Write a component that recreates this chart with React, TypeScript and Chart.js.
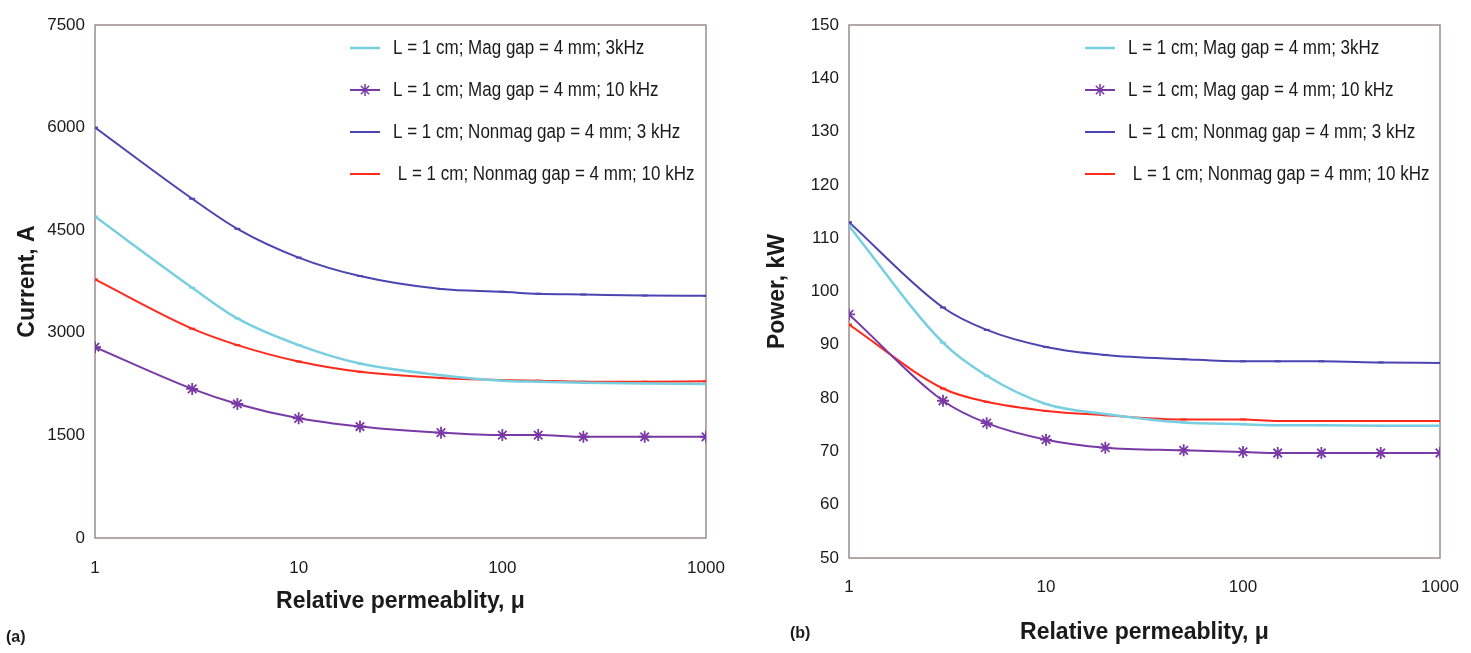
import React, { useEffect, useRef } from "react";
import { Chart, registerables } from "chart.js";

Chart.register(...registerables);

// ---- data ----
const mu = [1, 3, 5, 10, 20, 50, 100, 150, 250, 500, 1000];
const xTickValues = [1, 10, 100, 1000];

const seriesLabels = [
  "L = 1 cm; Mag gap = 4 mm; 3kHz",
  "L = 1 cm; Mag gap = 4 mm; 10 kHz",
  "L = 1 cm; Nonmag gap = 4 mm; 3 kHz",
  " L = 1 cm; Nonmag gap = 4 mm; 10 kHz",
];

// (a) Current, A
const currentMag3 = [4700, 3660, 3210, 2820, 2550, 2380, 2300, 2285, 2270, 2260, 2250];
const currentMag10 = [2790, 2180, 1960, 1750, 1630, 1540, 1505, 1505, 1480, 1480, 1480];
const currentNonmag3 = [6000, 4960, 4520, 4100, 3830, 3640, 3600, 3570, 3560, 3545, 3540];
const currentNonmag10 = [3780, 3060, 2820, 2580, 2430, 2340, 2310, 2300, 2285, 2285, 2290];

// (b) Power, kW
const powerMag3 = [112.3, 90.4, 84.2, 78.9, 77.0, 75.4, 75.1, 74.9, 74.9, 74.8, 74.8];
const powerMag10 = [95.7, 79.5, 75.3, 72.2, 70.7, 70.2, 69.9, 69.7, 69.7, 69.7, 69.7];
const powerNonmag3 = [113.0, 97.0, 92.8, 89.6, 88.1, 87.3, 86.9, 86.9, 86.9, 86.7, 86.6];
const powerNonmag10 = [93.8, 81.8, 79.3, 77.6, 76.8, 76.0, 76.0, 75.7, 75.7, 75.7, 75.7];

const colors = ["#78cfe2", "#7a3aa6", "#4b45b2", "#ff2a1c"];
const pointStyles = ["line", "star", "line", "line"];
const pointRadii = [3, 6, 3, 3];
const lineWidths = [2.5, 2, 2, 2];

const SANS = "'Liberation Sans', Arial, sans-serif";

const framePlugin = {
  id: "frame",
  beforeDatasetsDraw(chart: any) {
    const { ctx, chartArea } = chart;
    const { left, top, right, bottom } = chartArea;
    ctx.save();
    ctx.strokeStyle = "#9c8c8c";
    ctx.lineWidth = 1.5;
    ctx.strokeRect(left, top, right - left, bottom - top);
    ctx.restore();
  },
};

const legendPlugin = {
  id: "insideLegend",
  afterDraw(chart: any, _args: any, opts: any) {
    const { ctx } = chart;
    ctx.save();
    chart.data.datasets.forEach((ds: any, i: number) => {
      const y = opts.y0 + i * opts.dy;
      const x0 = opts.x0;
      ctx.strokeStyle = ds.borderColor;
      ctx.lineWidth = ds.borderWidth;
      ctx.beginPath();
      ctx.moveTo(x0, y);
      ctx.lineTo(x0 + 30, y);
      ctx.stroke();
      if (ds.pointStyle === "star") {
        const cx = x0 + 15;
        const r = 6;
        ctx.lineWidth = 1.5;
        ctx.beginPath();
        ctx.moveTo(cx - r * 0.7, y - r * 0.7);
        ctx.lineTo(cx + r * 0.7, y + r * 0.7);
        ctx.moveTo(cx + r * 0.7, y - r * 0.7);
        ctx.lineTo(cx - r * 0.7, y + r * 0.7);
        ctx.moveTo(cx, y - r);
        ctx.lineTo(cx, y + r);
        ctx.stroke();
      }
      ctx.save();
      ctx.translate(x0 + 43, y);
      ctx.scale(0.85, 1);
      ctx.fillStyle = "#1a1a1a";
      ctx.font = `20px ${SANS}`;
      ctx.textBaseline = "middle";
      ctx.textAlign = "left";
      ctx.fillText(ds.label, 0, 0);
      ctx.restore();
    });
    ctx.restore();
  },
};

const panelLabelPlugin = {
  id: "panelLabel",
  afterDraw(chart: any, _args: any, opts: any) {
    const { ctx } = chart;
    ctx.save();
    ctx.fillStyle = "#1a1a1a";
    ctx.font = `bold 16px ${SANS}`;
    ctx.textBaseline = "middle";
    ctx.textAlign = "left";
    ctx.fillText(opts.text, opts.x, opts.y);
    ctx.restore();
  },
};

function buildDatasets(values: number[][]) {
  return values.map((vals, i) => ({
    label: seriesLabels[i],
    data: mu.map((m, j) => ({ x: m, y: vals[j] })),
    borderColor: colors[i],
    backgroundColor: colors[i],
    borderWidth: lineWidths[i],
    pointStyle: pointStyles[i],
    pointRadius: pointRadii[i],
    pointBorderWidth: i === 1 ? 1.8 : 2,
    pointBorderColor: colors[i],
    cubicInterpolationMode: "monotone",
    fill: false,
  }));
}

function makeOptions(p: any) {
  return {
    responsive: false,
    animation: false,
    layout: { padding: { left: 0, top: p.top, right: p.right, bottom: 0 } },
    plugins: {
      legend: { display: false },
      tooltip: { enabled: false },
      insideLegend: { x0: p.legendX, y0: 48, dy: 42 },
      panelLabel: { text: p.panel, x: p.panelX, y: p.panelY },
    },
    scales: {
      x: {
        type: "logarithmic",
        min: 1,
        max: 1000,
        grid: {
          display: true,
          drawOnChartArea: false,
          drawTicks: true,
          tickLength: p.xTickLen,
          color: "rgba(0,0,0,0)",
        },
        border: { display: false },
        afterBuildTicks: (scale: any) => {
          scale.ticks = xTickValues.map((v) => ({ value: v }));
        },
        afterFit: (scale: any) => {
          scale.height = p.xAxisHeight;
        },
        ticks: {
          autoSkip: false,
          maxRotation: 0,
          padding: 2,
          color: "#1a1a1a",
          font: { family: SANS, size: 17 },
          callback: (v: any) => String(v),
        },
        title: {
          display: true,
          text: "Relative permeablity, μ",
          color: "#1a1a1a",
          font: { family: SANS, size: 23, weight: "bold" },
          padding: { top: 0, bottom: p.xTitlePad },
        },
      },
      y: {
        type: "linear",
        min: p.yMin,
        max: p.yMax,
        grid: { display: false, drawTicks: false },
        border: { display: false },
        afterFit: (scale: any) => {
          scale.width = p.yAxisWidth;
        },
        ticks: {
          stepSize: p.yStep,
          padding: 10,
          color: "#1a1a1a",
          font: { family: SANS, size: 17 },
          callback: (v: any) => String(v),
        },
        title: {
          display: true,
          text: p.yTitle,
          color: "#1a1a1a",
          font: { family: SANS, size: 23, weight: "bold" },
          padding: { top: p.yTitlePad, bottom: 0 },
        },
      },
    },
  };
}

export default function App() {
  const leftRef = useRef<HTMLCanvasElement>(null);
  const rightRef = useRef<HTMLCanvasElement>(null);

  useEffect(() => {
    const left = new Chart(leftRef.current as HTMLCanvasElement, {
      type: "line",
      data: {
        datasets: buildDatasets([currentMag3, currentMag10, currentNonmag3, currentNonmag10]) as any,
      },
      options: makeOptions({
        top: 25,
        right: 34,
        xAxisHeight: 115,
        yAxisWidth: 95,
        xTickLen: 18,
        xTitlePad: 38,
        yTitlePad: 14,
        yMin: 0,
        yMax: 7500,
        yStep: 1500,
        yTitle: "Current, A",
        legendX: 350,
        panel: "(a)",
        panelX: 6,
        panelY: 638,
      }) as any,
      plugins: [framePlugin, legendPlugin, panelLabelPlugin],
    });
    const right = new Chart(rightRef.current as HTMLCanvasElement, {
      type: "line",
      data: {
        datasets: buildDatasets([powerMag3, powerMag10, powerNonmag3, powerNonmag10]) as any,
      },
      options: makeOptions({
        top: 25,
        right: 31,
        xAxisHeight: 95,
        yAxisWidth: 109,
        xTickLen: 17,
        xTitlePad: 7,
        yTitlePad: 24,
        yMin: 50,
        yMax: 150,
        yStep: 10,
        yTitle: "Power, kW",
        legendX: 345,
        panel: "(b)",
        panelX: 50,
        panelY: 634,
      }) as any,
      plugins: [framePlugin, legendPlugin, panelLabelPlugin],
    });
    return () => {
      left.destroy();
      right.destroy();
    };
  }, []);

  return (
    <div style={{ position: "absolute", left: 0, top: 0, width: 1471, height: 653, background: "#ffffff" }}>
      <canvas ref={leftRef} width={740} height={653} style={{ position: "absolute", left: 0, top: 0 }} />
      <canvas ref={rightRef} width={731} height={653} style={{ position: "absolute", left: 740, top: 0 }} />
    </div>
  );
}
